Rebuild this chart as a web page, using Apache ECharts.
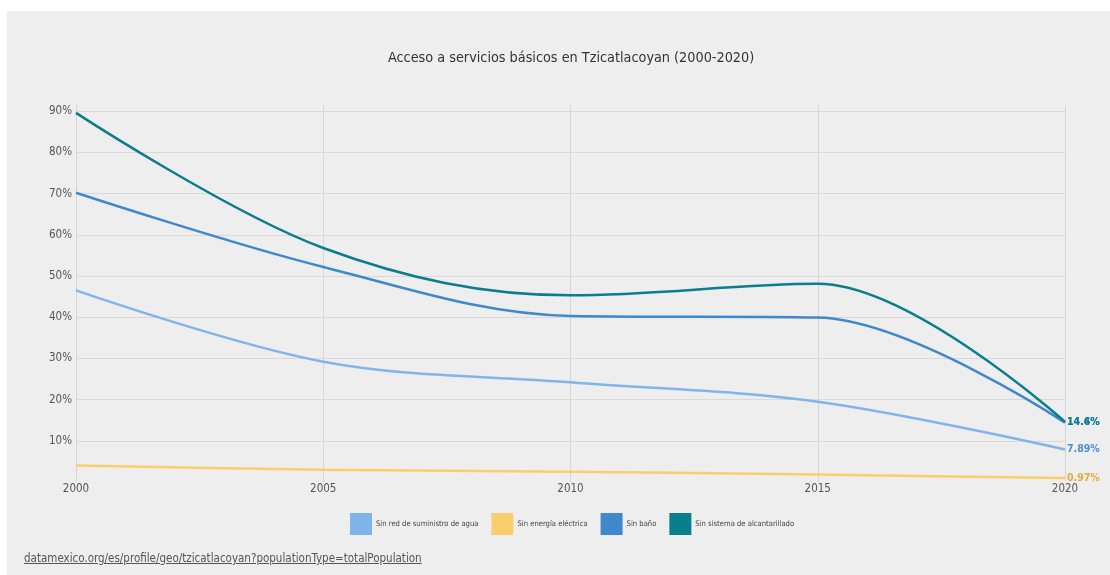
<!DOCTYPE html>
<html>
<head>
<meta charset="utf-8">
<script src="https://cdn.jsdelivr.net/npm/echarts@6/dist/echarts.min.js"></script>
<style>
html,body{margin:0;padding:0;background:#ffffff;}
#panel{position:absolute;left:7px;top:11px;width:1103px;height:564px;background:#eeeeee;}
#chart{position:absolute;left:0;top:0;width:1110px;height:575px;}
#src{position:absolute;left:24px;top:551px;font-family:"Liberation Sans Narrow","DejaVu Sans Condensed",sans-serif;font-size:11.5px;color:#555;text-decoration:underline;}
</style>
</head>
<body>
<div id="panel"></div>
<div id="chart"></div>
<div id="src">datamexico.org/es/profile/geo/tzicatlacoyan?populationType=totalPopulation</div>
<script>
const years = [2000, 2005, 2010, 2015, 2020];
const seriesNames = ["Sin red de suministro de agua", "Sin energía eléctrica", "Sin baño", "Sin sistema de alcantarillado"];
const agua = [46.5, 29.2, 24.2, 19.5, 7.89];
const energia = [4.0, 3.0, 2.5, 1.8, 0.97];
const bano = [70.2, 52.2, 40.3, 39.9, 14.4];
const alcantarillado = [89.6, 56.8, 45.3, 48.1, 14.6];
const yTicks = [10, 20, 30, 40, 50, 60, 70, 80, 90];

const lineColors = ["#82b4ec", "#f8cf6c", "#3f88cc", "#0a7e8c"];
const labelColors = ["#4a8fd6", "#e3ac3a", "#3f88cc", "#0a7e8c"];
const values = [agua, energia, bano, alcantarillado];
const FONT = '"Liberation Sans Narrow","DejaVu Sans Condensed",sans-serif';

const chart = echarts.init(document.getElementById('chart'));
chart.setOption({
  animation: false,
  backgroundColor: 'transparent',
  title: {
    text: 'Acceso a servicios básicos en Tzicatlacoyan (2000-2020)',
    left: 383, top: 46,
    textStyle: {fontFamily: FONT, fontSize: 14.3, fontWeight: 'normal', color: '#333'}
  },
  legend: {
    data: seriesNames,
    bottom: 35, left: 345,
    icon: 'rect', itemWidth: 22, itemHeight: 22, itemGap: 13,
    textStyle: {fontFamily: FONT, fontSize: 7.6, color: '#444', padding: [0, 0, 0, -1]}
  },
  grid: {left: 76, right: 45, top: 105, bottom: 93},
  xAxis: {
    type: 'value', min: 2000, max: 2020, interval: 5,
    axisLine: {show: false}, axisTick: {show: false},
    axisLabel: {fontFamily: FONT, fontSize: 11.5, color: '#555', margin: 1, formatter: v => String(v)},
    splitLine: {show: true, lineStyle: {color: '#d6d6d6', width: 1}}
  },
  yAxis: {
    type: 'value', min: 0, max: 91.5, interval: 10,
    axisLine: {show: false}, axisTick: {show: false},
    axisLabel: {fontFamily: FONT, fontSize: 11.5, color: '#555', margin: 4, showMinLabel: false, showMaxLabel: false,
      formatter: v => yTicks.includes(v) ? v + '%' : ''},
    splitLine: {show: true, showMinLine: false, showMaxLine: false, lineStyle: {color: '#d9d9d9', width: 1}}
  },
  series: seriesNames.map((name, i) => ({
    name: name, type: 'line',
    data: years.map((y, k) => [y, values[i][k]]),
    smooth: 0.35,
    showSymbol: false, symbol: 'none',
    color: lineColors[i],
    lineStyle: {width: 2.5, color: lineColors[i]},
    z: i + 2,
    endLabel: {
      show: true, distance: 2,
      fontFamily: FONT, fontSize: 10.5, fontWeight: 'bold', color: labelColors[i],
      formatter: () => values[i][values[i].length - 1] + '%'
    },
    labelLayout: {hideOverlap: false}
  }))
});
</script>
</body>
</html>
